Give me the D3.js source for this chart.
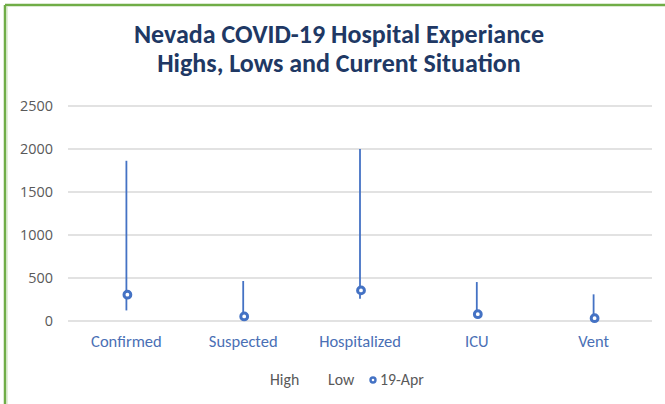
<!DOCTYPE html>
<html lang="en">
<head>
<meta charset="UTF-8">
<title>Nevada COVID-19 Hospital Experiance</title>
<script src="https://d3js.org/d3.v7.min.js"></script>
<style>
    body { margin: 0; background: #fff; }
    svg { display: block; font-family: Carlito, Calibri, Lato, sans-serif; }
</style>
</head>
<body>
<svg></svg>
<script>
// chart data
const categories = ["Confirmed", "Suspected", "Hospitalized", "ICU", "Vent"];
const highs = [1863, 465, 2000, 453, 310];
const lows = [123, 50, 259, 72, 30];
const current = [306, 53, 356, 79, 33];
const yTicks = [0, 500, 1000, 1500, 2000, 2500];
const legendLabels = ["High", "Low", "19-Apr"];

const W = 665, H = 404;
const margin = { top: 106, right: 13, bottom: 83, left: 68 };

const svg = d3.select("svg").attr("width", W).attr("height", H);

// frame (green left and top edges as in the cropped screenshot)
svg.append("line").attr("x1", 5).attr("x2", W).attr("y1", 5).attr("y2", 5)
    .attr("stroke", "#70ad47").attr("stroke-width", 2.5);
svg.append("line").attr("x1", 5).attr("x2", 5).attr("y1", 5).attr("y2", H)
    .attr("stroke", "#70ad47").attr("stroke-width", 2.5);
svg.append("line").attr("x1", 7).attr("x2", 7).attr("y1", 7).attr("y2", H)
    .attr("stroke", "#c5e0b4").attr("stroke-width", 1);

const x = d3.scaleBand()
    .domain(categories)
    .range([margin.left, W - margin.right]);

const y = d3.scaleLinear()
    .domain([0, 2500])
    .range([H - margin.bottom, margin.top]);

// gridlines
svg.append("g")
    .selectAll("line")
    .data(yTicks)
    .join("line")
    .attr("x1", margin.left)
    .attr("x2", W - margin.right)
    .attr("y1", d => y(d))
    .attr("y2", d => y(d))
    .attr("stroke", "#d9d9d9")
    .attr("stroke-width", 1.3);

// y axis labels
const yAxis = svg.append("g")
    .attr("transform", `translate(${margin.left},0)`)
    .call(d3.axisLeft(y).tickValues(yTicks).tickFormat(d3.format("d")).tickSize(0).tickPadding(15));
yAxis.select(".domain").remove();
yAxis.selectAll("text")
    .attr("fill", "#595959")
    .style("font-size", "14.4px")
    .style("font-family", "'Open Sans', sans-serif");

// x axis labels
const xAxis = svg.append("g")
    .attr("transform", `translate(0,${H - margin.bottom})`)
    .call(d3.axisBottom(x).tickSize(0).tickPadding(14));
xAxis.select(".domain").remove();
xAxis.selectAll("text")
    .attr("fill", "#4a6fb5")
    .style("font-size", "16.5px")
    .style("font-family", "Carlito, Calibri, Lato, sans-serif");

const rows = categories.map((c, i) => ({ cat: c, high: highs[i], low: lows[i], cur: current[i] }));

// high-low lines
svg.append("g")
    .selectAll("line")
    .data(rows)
    .join("line")
    .attr("x1", d => x(d.cat) + x.bandwidth() / 2)
    .attr("x2", d => x(d.cat) + x.bandwidth() / 2)
    .attr("y1", d => y(d.high))
    .attr("y2", d => y(d.low))
    .attr("stroke", "#4472c4")
    .attr("stroke-width", 1.8);

// current markers
svg.append("g")
    .selectAll("circle")
    .data(rows)
    .join("circle")
    .attr("cx", d => x(d.cat) + x.bandwidth() / 2 + 1)
    .attr("cy", d => y(d.cur))
    .attr("r", 3.4)
    .attr("fill", "#ffffff")
    .attr("stroke", "#4472c4")
    .attr("stroke-width", 3);

// title
const title = svg.append("text")
    .attr("text-anchor", "middle")
    .attr("fill", "#203864")
    .style("font-size", "26px")
    .style("font-weight", "bold");
title.append("tspan").attr("x", 339).attr("y", 43).text("Nevada COVID-19 Hospital Experiance");
title.append("tspan").attr("x", 339).attr("y", 72).text("Highs, Lows and Current Situation");

// legend
const legend = svg.append("g").style("font-size", "15.8px").attr("fill", "#595959");
legend.append("text").attr("x", 270).attr("y", 385).text(legendLabels[0]);
legend.append("text").attr("x", 328).attr("y", 385).text(legendLabels[1]);
legend.append("circle").attr("cx", 373).attr("cy", 380).attr("r", 2.5)
    .attr("fill", "#fff").attr("stroke", "#4472c4").attr("stroke-width", 2.4);
legend.append("text").attr("x", 380).attr("y", 385).text(legendLabels[2]);
</script>
</body>
</html>
